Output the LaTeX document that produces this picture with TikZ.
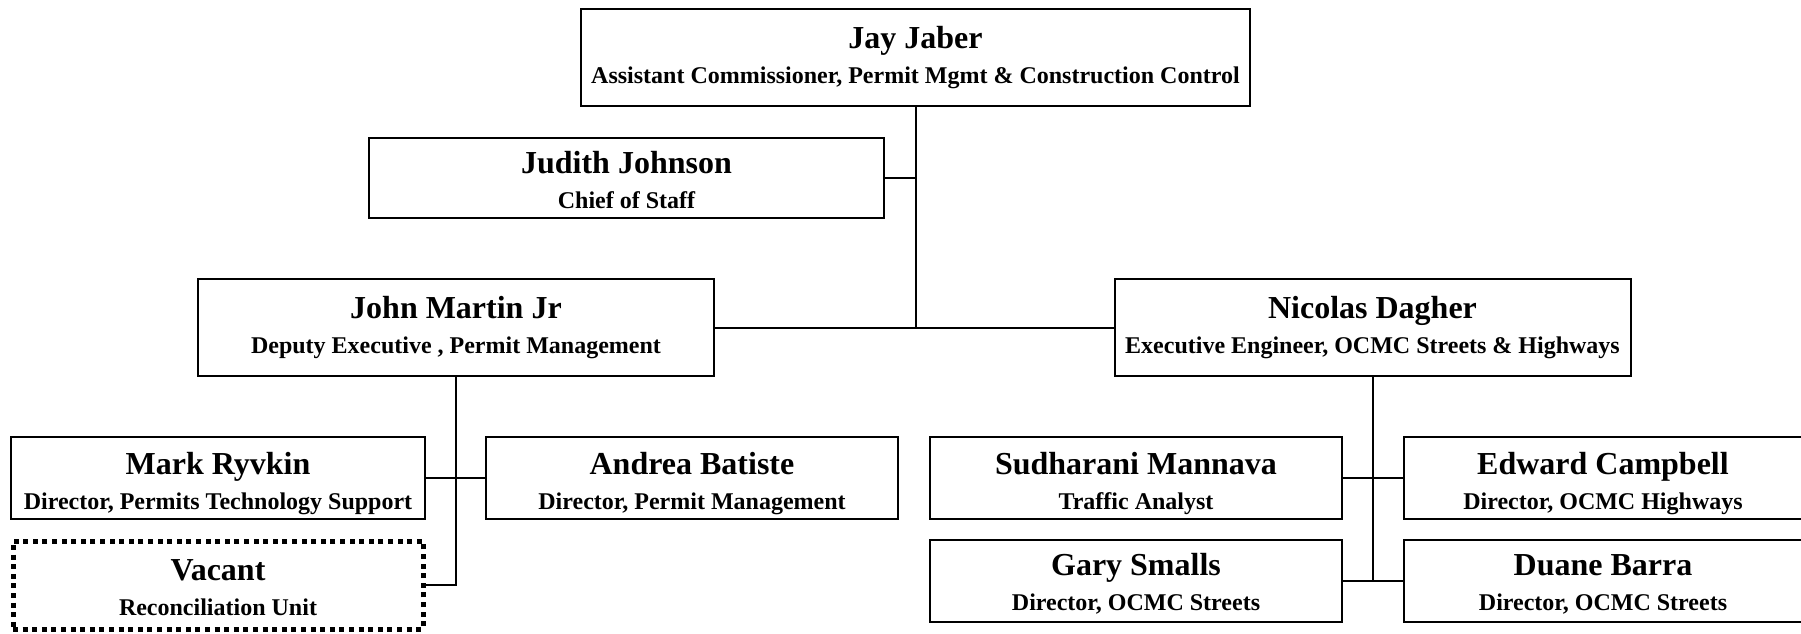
\documentclass[tikz,border=0pt]{standalone}
\usepackage{fontspec}
\setmainfont{Liberation Serif}
\usepackage{tikz}
\usetikzlibrary{positioning, calc}
\newcommand{\person}[3][0pt]{{\fontsize{16}{17.5}\selectfont\rule{0pt}{#1}#2}\\{\fontsize{12}{17.5}\selectfont #3}}

\begin{document}
\begin{tikzpicture}[x=0.5pt, y=-0.5pt,
		box/.style={draw, line width=1pt, inner sep=0pt, outer sep=0pt, align=center, font=\bfseries\fontsize{12}{17.5}\selectfont, minimum height=41pt},
		wide/.style={box, minimum width=258pt, minimum height=48.5pt},
		small/.style={box, minimum width=206pt},
		vacantbox/.style={box, minimum width=205pt, minimum height=44pt, line width=2.5pt, dash pattern=on 2.5pt off 2.3pt},
		link/.style={line width=1pt}]
		
		\useasboundingbox (0,0) rectangle (1801,633);
		
		% Top of the chart
		\node[box, minimum width=334.5pt, minimum height=48.5pt] (jaber) at (915.5,57.5) {\person{Jay Jaber}{Assistant Commissioner, Permit Mgmt \& Construction Control}};
		\node[box, minimum width=257.5pt, minimum height=40pt] (johnson) at (626.5,178) {\person[13pt]{Judith Johnson}{Chief of Staff}};
		
		% Deputies
		\node[wide] (martin) at (456,327.5) {\person{John Martin Jr}{Deputy Executive , Permit Management}};
		\node[wide] (dagher) at (1372.5,327.5) {\person{Nicolas Dagher}{Executive Engineer, OCMC Streets \& Highways}};
		
		% Permit management side
		\node[small, minimum width=207pt] (ryvkin) at (218,477.5) {\person[17pt]{Mark Ryvkin}{Director, Permits Technology Support}};
		\node[small] (batiste) at (692,477.5) {\person[17pt]{Andrea Batiste}{Director, Permit Management}};
		\node[vacantbox] (vacant) at (218,585) {\person[13pt]{Vacant}{Reconciliation Unit}};
		
		% Streets and highways side
		\node[small] (mannava) at (1136,477.5) {\person[17pt]{Sudharani Mannava}{Traffic Analyst}};
		\node[small, minimum width=199pt] (campbell) at (1603,477.5) {\person[17pt]{Edward Campbell}{Director, OCMC Highways}};
		\node[small] (smalls) at (1136,580.5) {\person[14pt]{Gary Smalls}{Director, OCMC Streets}};
		\node[small, minimum width=199pt] (barra) at (1603,580.5) {\person[14pt]{Duane Barra}{Director, OCMC Streets}};
		
		% Connectors
		\draw[link] (jaber.south) -- (jaber.south |- martin.east);
		\draw[link] (johnson.east) -- (johnson.east -| jaber.south);
		\draw[link] (martin.east) -- (dagher.west);
		\draw[link] (martin.south) |- (vacant.east);
		\draw[link] (ryvkin.east) -- (batiste.west);
		\draw[link] (dagher.south) -- (dagher.south |- smalls.east);
		\draw[link] (mannava.east) -- (campbell.west);
		\draw[link] (smalls.east) -- (barra.west);
		
	\end{tikzpicture}
\end{document}
